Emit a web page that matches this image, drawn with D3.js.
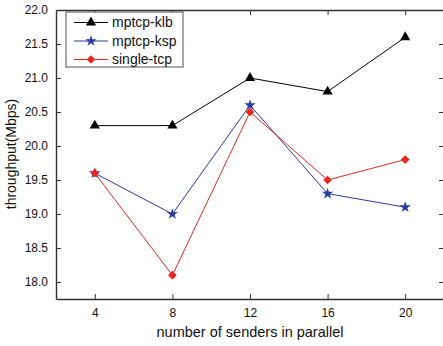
<!DOCTYPE html>
<html>
<head>
<meta charset="utf-8">
<script src="https://cdnjs.cloudflare.com/ajax/libs/d3/7.8.5/d3.min.js"></script>
<style>
  body { margin: 0; background: #fff; }
  text { font-family: Arial, "Liberation Sans", sans-serif; fill: #111; }
</style>
</head>
<body>
<svg id="chart" width="443" height="346"></svg>
<script>
// data
var senders = [4, 8, 12, 16, 20];
var klb = [20.3, 20.3, 21.0, 20.8, 21.6];
var ksp = [19.6, 19.0, 20.6, 19.3, 19.1];
var single = [19.6, 18.1, 20.5, 19.5, 19.8];
var yTicks = [18.0, 18.5, 19.0, 19.5, 20.0, 20.5, 21.0, 21.5, 22.0];

// diamond drawn as a square turned 45 degrees
var series = [
  { name: "mptcp-klb", values: klb, color: "#000000", symbol: d3.symbolTriangle, size: 45, rot: 0 },
  { name: "mptcp-ksp", values: ksp, color: "#2b3a9e", symbol: d3.symbolStar, size: 40, rot: 0 },
  { name: "single-tcp", values: single, color: "#e8281e", symbol: d3.symbolSquare, size: 38, rot: 45 }
];

var svg = d3.select("#chart");
var m = { left: 56, top: 10, right: 444, bottom: 299 };

var x = d3.scaleLinear().domain([2, 22]).range([m.left, m.right]);
var y = d3.scaleLinear().domain([17.75, 22.0]).range([m.bottom, m.top]);

// axes, ticks pointing inward
svg.append("g").attr("transform", "translate(0," + m.bottom + ")")
  .call(d3.axisBottom(x).tickValues(senders).tickSizeInner(-5).tickSizeOuter(0).tickPadding(9))
  .call(function(g){ g.selectAll("text").style("font-size", "12px"); });
svg.append("g").attr("transform", "translate(0," + m.top + ")")
  .call(d3.axisTop(x).tickValues(senders).tickSizeInner(-5).tickSizeOuter(0).tickFormat(""));
svg.append("g").attr("transform", "translate(" + m.left + ",0)")
  .call(d3.axisLeft(y).tickValues(yTicks).tickFormat(d3.format(".1f")).tickSizeInner(-5).tickSizeOuter(0).tickPadding(8))
  .call(function(g){ g.selectAll("text").style("font-size", "12px"); });
svg.append("g").attr("transform", "translate(" + m.right + ",0)")
  .call(d3.axisRight(y).tickValues(yTicks).tickSizeInner(-5).tickSizeOuter(0).tickFormat(""));

svg.selectAll(".domain").attr("stroke", "#333").attr("stroke-width", 1.4);
svg.selectAll(".tick line").attr("stroke", "#333").attr("stroke-width", 1);

// lines and markers
var line = d3.line().x(function(d, i){ return x(senders[i]); }).y(function(d){ return y(d); });

series.forEach(function(s){
  svg.append("path").datum(s.values)
    .attr("d", line).attr("fill", "none")
    .attr("stroke", s.color).attr("stroke-width", 1);
  svg.selectAll(null).data(s.values).enter().append("path")
    .attr("d", d3.symbol().type(s.symbol).size(s.size))
    .attr("transform", function(d, i){ return "translate(" + x(senders[i]) + "," + y(d) + ") rotate(" + s.rot + ")"; })
    .attr("fill", s.color);
});

// legend
var lg = svg.append("g").attr("transform", "translate(66,12)");
lg.append("rect").attr("width", 117).attr("height", 55)
  .attr("fill", "#fff").attr("stroke", "#555").attr("stroke-width", 1);
series.forEach(function(s, i){
  var ly = 10.5 + i * 18.5;
  lg.append("line").attr("x1", 8).attr("x2", 42).attr("y1", ly).attr("y2", ly)
    .attr("stroke", s.color).attr("stroke-width", 1);
  lg.append("path").attr("d", d3.symbol().type(s.symbol).size(s.size))
    .attr("transform", "translate(25," + ly + ") rotate(" + s.rot + ")").attr("fill", s.color);
  lg.append("text").attr("x", 46).attr("y", ly).attr("dy", "0.35em")
    .style("font-size", "14px").text(s.name);
});

// axis titles
svg.append("text").attr("x", 250).attr("y", 337).attr("text-anchor", "middle")
  .style("font-size", "14.5px").text("number of senders in parallel");
svg.append("text").attr("transform", "translate(16,154) rotate(-90)")
  .attr("text-anchor", "middle").style("font-size", "14px").text("throughput(Mbps)");
</script>
</body>
</html>
